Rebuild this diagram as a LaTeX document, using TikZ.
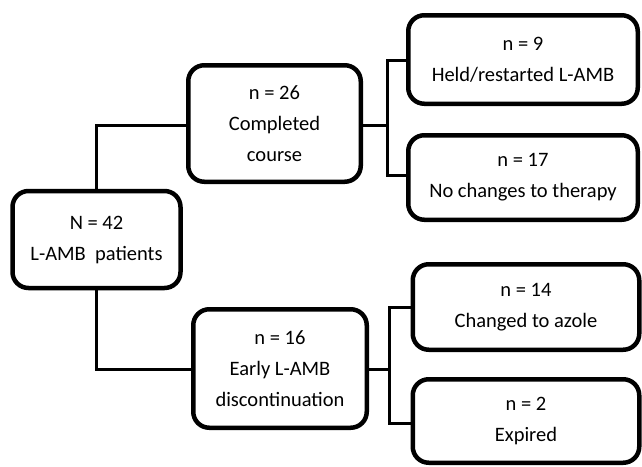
\documentclass[tikz,border=0pt]{standalone}
\usepackage{fontspec}
\setmainfont{Carlito}
\begin{document}
\begin{tikzpicture}[x=1pt,y=-1pt,
  box/.style={draw=black, line width=4.5pt, rounded corners=16pt, fill=white,
    align=center, inner sep=0pt, font=\fontsize{20.5}{31}\selectfont},
  link/.style={draw=black, line width=3pt}]
\useasboundingbox (0,0) rectangle (642,466);
\node[box, minimum width=168pt, minimum height=97pt] (root) at (96.5,239.5) {N = 42\\L-AMB\ \ patients};
\node[box, minimum width=172.5pt, minimum height=116.5pt] (comp) at (274.5,123.5) {n = 26\\Completed\\course};
\node[box, minimum width=173.5pt, minimum height=118.5pt] (early) at (280,368.5) {n = 16\\Early L-AMB\\discontinuation};
\node[box, minimum width=229.5pt, minimum height=88.5pt] (held) at (523,59.5) {n = 9\\Held/restarted L-AMB};
\node[box, minimum width=229.5pt, minimum height=84.5pt] (noch) at (523,177.5) {n = 17\\No changes to therapy};
\node[box, minimum width=226.5pt, minimum height=85.5pt] (azole) at (526,307) {n = 14\\Changed to azole};
\node[box, minimum width=226.5pt, minimum height=83.5pt] (exp) at (526,421) {n = 2\\Expired};
\coordinate (cj) at (387,125);
\coordinate (ej) at (389,369);
\draw[link] (root.north) |- (comp.west |- 0,125);
\draw[link] (root.south) |- (early.west |- 0,369);
\draw[link] (comp.east |- cj) -- (cj);
\draw[link] (held.west |- 0,60) -| (cj) |- (noch.west |- 0,175);
\draw[link] (early.east |- ej) -- (ej);
\draw[link] (azole.west |- 0,307) -| (ej) |- (exp.west |- 0,423);
\end{tikzpicture}
\end{document}
